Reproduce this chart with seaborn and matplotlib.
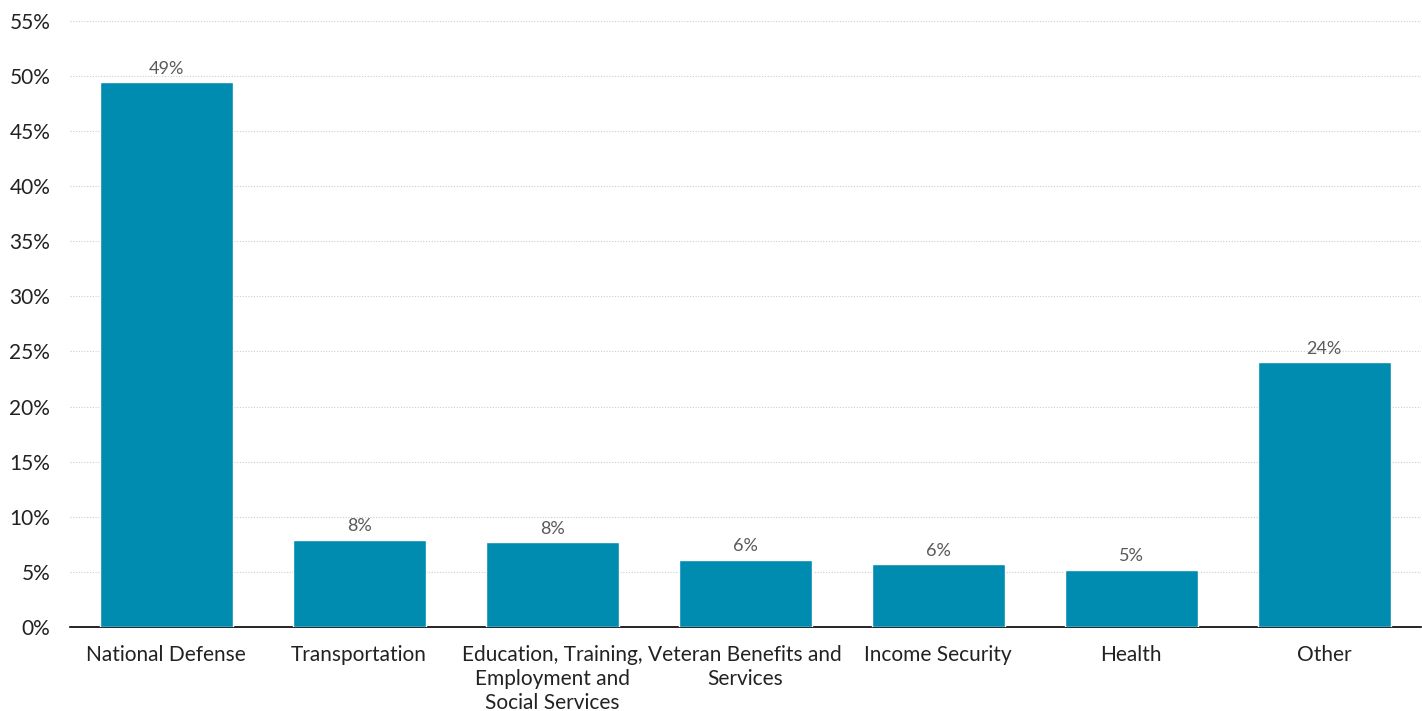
import matplotlib
matplotlib.use("Agg")
import matplotlib.pyplot as plt
import seaborn as sns
import pandas as pd
from matplotlib.ticker import MultipleLocator, FuncFormatter

categories = ["National Defense", "Transportation",
              "Education, Training,\nEmployment and\nSocial Services",
              "Veteran Benefits and\nServices", "Income Security", "Health", "Other"]
values = [49.4, 7.9, 7.7, 6.1, 5.7, 5.2, 24.0]
labels = ["49%", "8%", "8%", "6%", "6%", "5%", "24%"]

sns.set_theme(style="white")
plt.rcParams['font.family'] = ['Lato', 'DejaVu Sans']

df = pd.DataFrame({"category": categories, "value": values})

fig = plt.figure(figsize=(14.22, 7.11), dpi=100)
ax = fig.add_axes([0.049, 0.118, 0.950, 0.853])

sns.barplot(data=df, x="category", y="value", color="#008BB0", width=0.69,
            saturation=1, ax=ax, zorder=3)

for p, lab in zip(ax.patches, labels):
    ax.annotate(lab, (p.get_x() + p.get_width() / 2, p.get_height()),
                xytext=(0, 4), textcoords="offset points", ha="center", va="bottom",
                fontsize=13, color="#595959")

ax.set_ylim(0, 55)
ax.set_xlim(-0.5, 6.5)
ax.yaxis.set_major_locator(MultipleLocator(5))
ax.yaxis.set_major_formatter(FuncFormatter(lambda v, p: f"{v:.0f}%"))
ax.grid(axis="y", color="#cccccc", linestyle=(0, (1, 1.5)), linewidth=0.8, zorder=0)
ax.set_axisbelow(True)
for s in ["top", "right", "left"]:
    ax.spines[s].set_visible(False)
ax.spines["bottom"].set_color("black")
ax.spines["bottom"].set_linewidth(1.2)
ax.set_xlabel("")
ax.set_ylabel("")
ax.tick_params(axis="both", length=0, labelsize=15, colors="#222222")
ax.tick_params(axis="x", pad=13)
ax.tick_params(axis="y", pad=14)
for t in ax.get_xticklabels():
    t.set_linespacing(1.25)

fig.savefig("out.png", dpi=100)
